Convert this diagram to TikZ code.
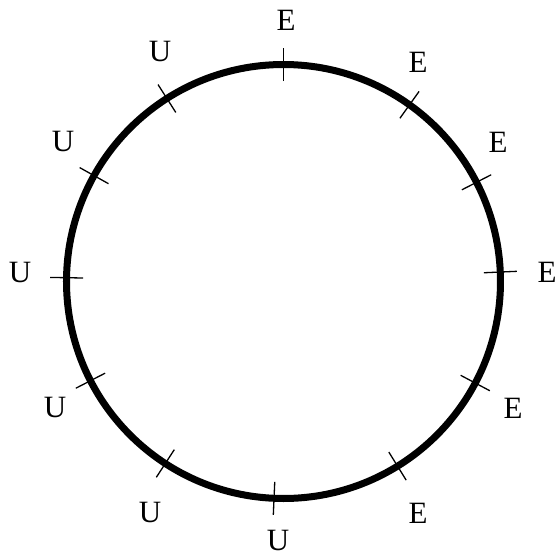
\documentclass[tikz,border=0pt]{standalone}
\usepackage{fontspec}
\setmainfont{Liberation Serif}
\usetikzlibrary{calc}
\begin{document}
\begin{tikzpicture}[
    x=1pt, y=1pt,
    every node/.style={font=\fontsize{31}{35}\selectfont, inner sep=0pt},
    ring/.style={line width=7pt},
    tickmark/.style={line width=1.3pt}
]
\useasboundingbox (-283.5,-276.5) rectangle (272.5,281.5);

\coordinate (centre) at (0,0);
\draw[ring] (centre) circle (217);

% ticks on the ring
\foreach \a in {90,54.5,27.2,2.5,-27.9,-58.3,-92.5,-123,-152.8,179,150.8,122.5}
    \draw[tickmark] ($(centre)+(\a:200.5)$) -- ($(centre)+(\a:233.5)$);

% labels
\foreach \n/\x/\y/\t in {
    e1/2.5/261.5/E, e2/134.5/219.5/E, e3/214.5/139.5/E,
    e4/263.5/9.5/E, e5/229.5/-126.5/E, e6/134.5/-231.5/E,
    u1/-5.5/-258.5/U, u2/-133.5/-230.5/U, u3/-228.5/-125.5/U,
    u4/-263.5/9.5/U, u5/-220.5/139.5/U, u6/-123.5/229.5/U}
    \node (\n) at (\x,\y) {\t};

\end{tikzpicture}
\end{document}
